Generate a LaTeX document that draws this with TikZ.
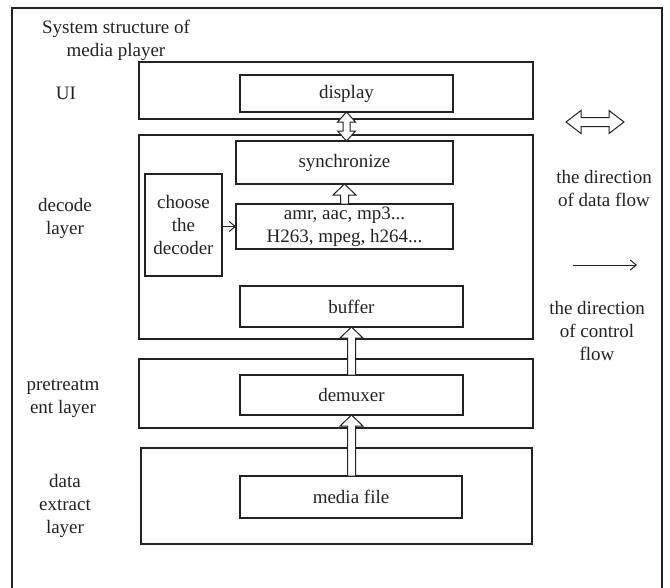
\documentclass[tikz,border=0pt]{standalone}
\usepackage{fontspec}
\setmainfont{Liberation Serif}
\usetikzlibrary{arrows.meta,calc}

\definecolor{ink}{HTML}{222222}

% hollow block arrow pointing up, from #1 (below) to #2 (above)
\newcommand\fatup[2]{%
  \draw[fatarrow] let \p1=(#1), \p2=(#2) in
    (\x2-4pt,\y1) -- (\x2-4pt,\y2-11pt) -- (\x2-11.5pt,\y2-11pt) -- (\x2,\y2)
    -- (\x2+11.5pt,\y2-11pt) -- (\x2+4pt,\y2-11pt) -- (\x2+4pt,\y1) -- cycle;}

% hollow block arrow with heads at both ends, vertical
\newcommand\fatboth[2]{%
  \draw[fatarrow] let \p1=(#1), \p2=(#2) in
    (\x1,\y1) -- (\x1+9pt,\y1-10pt) -- (\x1+3.5pt,\y1-10pt) -- (\x1+3.5pt,\y2+10pt)
    -- (\x1+9pt,\y2+10pt) -- (\x1,\y2) -- (\x1-9pt,\y2+10pt) -- (\x1-3.5pt,\y2+10pt)
    -- (\x1-3.5pt,\y1-10pt) -- (\x1-9pt,\y1-10pt) -- cycle;}

% hollow block arrow with heads at both ends, horizontal
\newcommand\fatside[2]{%
  \draw[fatarrow] let \p1=(#1), \p2=(#2) in
    (\x1,\y1) -- (\x1+15pt,\y1+11.5pt) -- (\x1+15pt,\y1+4.5pt) -- (\x2-15pt,\y1+4.5pt)
    -- (\x2-15pt,\y1+11.5pt) -- (\x2,\y1) -- (\x2-15pt,\y1-11.5pt) -- (\x2-15pt,\y1-4.5pt)
    -- (\x1+15pt,\y1-4.5pt) -- (\x1+15pt,\y1-11.5pt) -- cycle;}

\tikzset{
  box/.style={draw=ink, line width=1.2pt, inner sep=0pt, outer sep=0pt,
              align=center, text=ink},
  label/.style={align=center, text=ink, inner sep=0pt},
  fatarrow/.style={draw=ink, line width=1pt, fill=white, line join=miter},
  thinarrow/.style={draw=ink, line width=1pt, -{Straight Barb[length=6pt,width=10pt]}}
}

\begin{document}
\begin{tikzpicture}[x=1pt, y=-1pt, font=\fontsize{19}{23}\selectfont]
\useasboundingbox (0,0) rectangle (670,587);

% outer frame (open at the bottom)
\draw[ink, line width=1.2pt] (12,600) -- (12,8) -- (662,8) -- (662,600);

\node[label] (title) at (116,40) {System structure of\\media player};

% layers
\node[box, minimum width=394pt, minimum height=57pt]  (ui)       at (336,90.5) {};
\node[box, minimum width=394pt, minimum height=204pt] (decode)   at (336,237) {};
\node[box, minimum width=394pt, minimum height=69pt]  (pretreat) at (336,393.5) {};
\node[box, minimum width=391pt, minimum height=96pt]  (extract)  at (336.5,496) {};

% layer names
\node[label] (uilbl)      at (66,93)  {UI};
\node[label] (decodelbl)  at (65,218) {decode\\layer};
\node[label] (pretreatlbl) at (63,399) {pretreatm\\ent layer};
\node[label] (extractlbl) at (65,506) {data\\extract\\layer};

% modules
\node[box, minimum width=213pt, minimum height=37pt]  (display) at (346.5,93.5) {display};
\node[box, minimum width=217pt, minimum height=43pt]  (sync)    at (344.5,162.5) {synchronize};
\node[box, minimum width=77pt,  minimum height=102pt] (choose)  at (183.5,225) {choose\\the\\decoder};
\node[box, minimum width=217pt, minimum height=45pt]  (codecs)  at (344.5,226.5) {amr, aac, mp3...\\H263, mpeg, h264...};
\node[box, minimum width=223pt, minimum height=41pt]  (buffer)  at (351.5,306.5) {buffer};
\node[box, minimum width=223pt, minimum height=40pt]  (demuxer) at (351.5,395) {demuxer};
\node[box, minimum width=222pt, minimum height=42pt]  (media)   at (351,497) {media file};

% data flow
\fatup{media.north}{demuxer.south}
\fatup{demuxer.north}{buffer.south}
\fatup{codecs.north}{sync.south}
\fatboth{display.south}{sync.north}

% control flow
\draw[thinarrow] (choose.east |- codecs.west) -- (codecs.west);

% legend
\coordinate (dl) at (566,122);
\coordinate (dr) at (624,122);
\fatside{dl}{dr}
\node[label] (datatxt) at (604,188) {the direction\\of data flow};

\coordinate (cl) at (573,265);
\coordinate (cr) at (637,265);
\draw[thinarrow] (cl) -- (cr);
\node[label] (ctrltxt) at (597,331) {the direction\\of control\\flow};
\end{tikzpicture}
\end{document}
